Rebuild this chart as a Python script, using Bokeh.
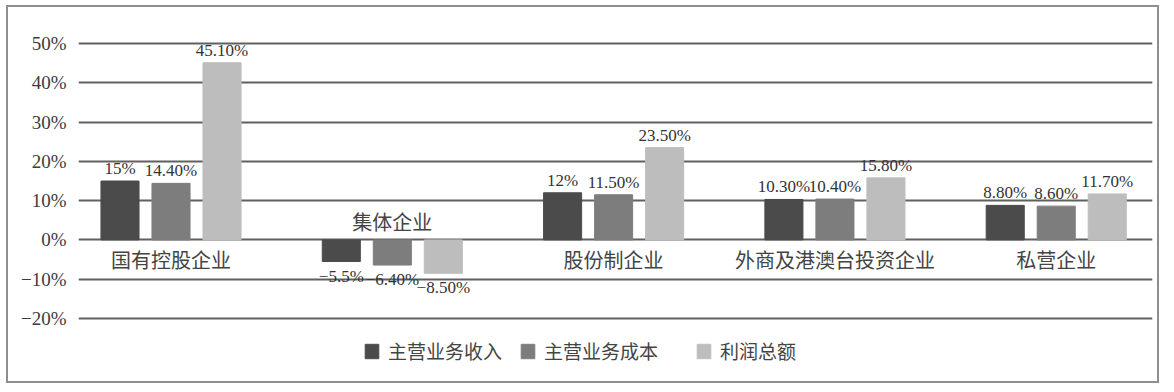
from bokeh.plotting import figure
from bokeh.models import (ColumnDataSource, FixedTicker, Legend, LegendItem, Range1d)
from bokeh.transform import dodge
from bokeh.core.properties import value
from bokeh.embed import file_html
from bokeh.resources import INLINE

categories = ["国有控股企业", "集体企业", "股份制企业", "外商及港澳台投资企业", "私营企业"]
series_names = ["主营业务收入", "主营业务成本", "利润总额"]
revenue = [15, -5.5, 12, 10.3, 8.8]
cost = [14.4, -6.4, 11.5, 10.4, 8.6]
profit = [45.1, -8.5, 23.5, 15.8, 11.7]
revenue_labels = ["15%", "−5.5%", "12%", "10.30%", "8.80%"]
cost_labels = ["14.40%", "−6.40%", "11.50%", "10.40%", "8.60%"]
profit_labels = ["45.10%", "−8.50%", "23.50%", "15.80%", "11.70%"]
y_ticks = [-20, -10, 0, 10, 20, 30, 40, 50]
y_tick_labels = ["−20%", "−10%", "0%", "10%", "20%", "30%", "40%", "50%"]

colors = ["#4b4b4b", "#7d7d7d", "#bdbdbd"]
CJK = "Noto Sans CJK SC"
SERIF = "Liberation Serif"

idx = list(range(len(categories)))
source = ColumnDataSource(dict(
    x=idx, cat=categories,
    s0=revenue, s1=cost, s2=profit,
    l0=revenue_labels, l1=cost_labels, l2=profit_labels,
))

p = figure(width=1153, height=378, output_backend="svg", toolbar_location=None,
           x_range=Range1d(-0.418, 4.435), y_range=Range1d(-36.3, 57.9),
           min_border_left=70, min_border_right=9, min_border_top=5, min_border_bottom=3)
p.styles = {"border": "2px solid #8e8e8e", "margin": "5px 0px 0px 6px"}
p.outline_line_color = None
p.background_fill_color = "white"
p.border_fill_color = "white"

p.xaxis.visible = False
p.xgrid.visible = False
p.yaxis.ticker = FixedTicker(ticks=y_ticks)
p.yaxis.major_label_overrides = {t: l for t, l in zip(y_ticks, y_tick_labels)}
p.yaxis.axis_line_color = None
p.yaxis.major_tick_line_color = None
p.yaxis.minor_tick_line_color = None
p.yaxis.major_label_standoff = 6
p.yaxis.major_label_text_font = SERIF
p.yaxis.major_label_text_font_size = "19px"
p.yaxis.major_label_text_color = "#3c3c3c"
p.ygrid.ticker = FixedTicker(ticks=y_ticks)
p.ygrid.grid_line_color = "#606060"
p.ygrid.grid_line_width = 2

bar_w = 0.172
offsets = [-0.2305, 0.0, 0.2305]
renderers = []
for k in range(3):
    r = p.vbar(x=dodge("x", offsets[k], range=p.x_range), top=f"s{k}", bottom=0,
               width=bar_w, source=source, fill_color=colors[k], line_color=colors[k])
    renderers.append(r)

# value labels
for k, vals in enumerate([revenue, cost, profit]):
    labels = source.data[f"l{k}"]
    pos = ColumnDataSource(dict(x=[i for i, v in zip(idx, vals) if v >= 0],
                                y=[v for v in vals if v >= 0],
                                t=[l for l, v in zip(labels, vals) if v >= 0]))
    neg = ColumnDataSource(dict(x=[i for i, v in zip(idx, vals) if v < 0],
                                y=[v for v in vals if v < 0],
                                t=[l for l, v in zip(labels, vals) if v < 0]))
    p.text(x=dodge("x", offsets[k], range=p.x_range), y="y", text="t", source=pos,
           text_align="center", text_baseline="bottom", y_offset=-3,
           text_font=value(SERIF), text_font_size="17px", text_color="#333333")
    p.text(x=dodge("x", offsets[k], range=p.x_range), y="y", text="t", source=neg,
           text_align="center", text_baseline="top", y_offset=5,
           text_font=value(SERIF), text_font_size="17px", text_color="#333333")

# category labels: below the zero line, or above it when the group is negative
below = ColumnDataSource(dict(x=[i for i in idx if revenue[i] >= 0],
                              y=[0 for i in idx if revenue[i] >= 0],
                              t=[categories[i] for i in idx if revenue[i] >= 0]))
above = ColumnDataSource(dict(x=[i for i in idx if revenue[i] < 0],
                              y=[0 for i in idx if revenue[i] < 0],
                              t=[categories[i] for i in idx if revenue[i] < 0]))
p.text(x="x", y="y", text="t", source=below, text_align="center", text_baseline="top",
       y_offset=5, text_font=value(CJK), text_font_size="20px", text_color="#444444")
p.text(x="x", y="y", text="t", source=above, text_align="center", text_baseline="bottom",
       y_offset=-4, text_font=value(CJK), text_font_size="20px", text_color="#444444")

# legends (one per item to match the spacing of the original)
legend_x = [285, 441, 617]
for k in range(3):
    lg = Legend(items=[LegendItem(label=series_names[k], renderers=[renderers[k]])],
                location=(legend_x[k], 18), orientation="horizontal",
                padding=0, margin=0, spacing=0,
                glyph_width=17, glyph_height=18, label_standoff=8,
                label_text_font=CJK, label_text_font_size="19px", label_text_color="#444444",
                border_line_color=None, background_fill_alpha=0)
    p.add_layout(lg, "center")

open("out.html", "w").write(file_html(p, INLINE))
